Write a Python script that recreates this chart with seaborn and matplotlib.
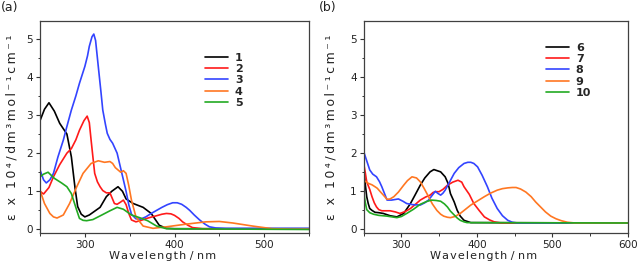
import numpy as np
import pandas as pd
import seaborn as sns
import matplotlib
matplotlib.use("Agg")
import matplotlib.pyplot as plt
from matplotlib.ticker import MultipleLocator
from matplotlib.lines import Line2D

# ---------------- data: panel (a) ----------------
wl_1 = [250, 255, 260, 266, 272, 280, 285, 289, 292, 296, 300, 305, 311, 317, 324, 330, 337, 342, 346, 354, 365, 374, 383, 391, 400, 550]
eps_1 = [2.85, 3.15, 3.32, 3.1, 2.78, 2.5, 1.9, 1.1, 0.6, 0.4, 0.33, 0.38, 0.48, 0.58, 0.86, 1.0, 1.12, 1.0, 0.8, 0.68, 0.58, 0.42, 0.11, 0.03, 0.02, 0.02]

wl_2 = [250, 254, 260, 265, 272, 280, 285, 290, 294, 299, 302.6, 305, 307, 309, 311, 314, 317, 320, 324, 328, 333, 336, 340, 343, 346, 349, 352, 357, 363, 369, 375, 380, 386, 391, 396, 400, 405, 409, 415, 420, 431, 550]
eps_2 = [1.0, 0.93, 1.1, 1.38, 1.7, 2.0, 2.12, 2.35, 2.6, 2.85, 2.97, 2.8, 2.34, 1.9, 1.47, 1.25, 1.12, 1.02, 0.96, 0.96, 0.68, 0.66, 0.72, 0.77, 0.65, 0.42, 0.25, 0.2, 0.24, 0.29, 0.33, 0.36, 0.4, 0.42, 0.41, 0.37, 0.29, 0.2, 0.11, 0.05, 0.02, 0.01]

wl_3 = [250, 254, 257, 261, 265, 270, 276, 280, 285, 290, 294, 300, 303, 305, 308, 310, 312, 315, 318, 320, 323, 325, 328, 331, 336, 341, 346, 349, 352, 357, 362, 368, 374, 380, 386, 392, 398, 403, 408, 413, 417, 422, 428, 434, 439, 446, 457, 550]
eps_3 = [1.56, 1.3, 1.22, 1.3, 1.47, 1.9, 2.34, 2.7, 3.13, 3.5, 3.83, 4.27, 4.55, 4.8, 5.05, 5.12, 4.95, 4.27, 3.6, 3.13, 2.75, 2.52, 2.36, 2.26, 2.0, 1.5, 1.0, 0.65, 0.4, 0.28, 0.27, 0.33, 0.42, 0.5, 0.58, 0.65, 0.7, 0.7, 0.66, 0.58, 0.5, 0.38, 0.25, 0.14, 0.07, 0.04, 0.03, 0.03]

wl_4 = [250, 255, 261, 265, 269, 276, 283, 291, 298, 307, 315, 322, 328, 331, 334, 337, 340, 343, 346, 349, 352, 357, 365, 376, 391, 413, 435, 450, 465, 487, 509, 530, 550]
eps_4 = [1.03, 0.68, 0.42, 0.33, 0.3, 0.38, 0.68, 1.12, 1.47, 1.73, 1.8, 1.76, 1.78, 1.73, 1.62, 1.56, 1.5, 1.54, 1.47, 1.15, 0.77, 0.33, 0.09, 0.03, 0.07, 0.14, 0.2, 0.21, 0.17, 0.09, 0.02, 0.01, 0.01]

wl_5 = [250, 254, 259, 266, 274, 280, 285, 288, 291, 294, 298, 302, 309, 319, 328, 336, 343, 352, 361, 370, 380, 391, 550]
eps_5 = [1.38, 1.45, 1.5, 1.34, 1.22, 1.12, 0.94, 0.72, 0.5, 0.29, 0.24, 0.23, 0.26, 0.38, 0.49, 0.58, 0.53, 0.38, 0.31, 0.23, 0.09, 0.02, 0.0]

# ---------------- data: panel (b) ----------------
wl_6 = [250, 252, 254, 256, 258, 261, 265, 270, 276, 285, 294, 303, 312, 318, 325, 331, 338, 343, 352, 358, 362, 365, 370, 374, 378, 383, 392, 600]
eps_6 = [1.64, 1.2, 0.86, 0.68, 0.55, 0.5, 0.45, 0.44, 0.42, 0.36, 0.33, 0.42, 0.68, 0.9, 1.16, 1.35, 1.51, 1.57, 1.51, 1.38, 1.2, 0.94, 0.72, 0.5, 0.35, 0.24, 0.18, 0.17]

wl_7 = [250, 252, 254, 258, 261, 264, 267, 270, 274, 280, 285, 292, 298, 305, 312, 318, 325, 332, 338, 342, 345, 350, 355, 361, 368, 375, 380, 383, 390, 396, 403, 410, 417, 423, 432, 600]
eps_7 = [1.73, 1.5, 1.25, 1.05, 0.86, 0.7, 0.59, 0.52, 0.49, 0.49, 0.49, 0.46, 0.42, 0.47, 0.55, 0.65, 0.77, 0.85, 0.9, 0.97, 0.99, 0.99, 1.05, 1.16, 1.24, 1.29, 1.24, 1.12, 0.92, 0.68, 0.5, 0.33, 0.25, 0.2, 0.17, 0.17]

wl_8 = [250, 254, 258, 262, 267, 271, 274, 278, 281, 287, 296, 302, 307, 315, 325, 331, 336, 341, 345, 348, 352, 355, 358, 364, 370, 376, 383, 388, 392, 396, 401, 407, 414, 420, 427, 434, 441, 447, 454, 600]
eps_8 = [2.04, 1.8, 1.56, 1.45, 1.38, 1.25, 1.12, 0.92, 0.77, 0.77, 0.8, 0.74, 0.68, 0.65, 0.64, 0.7, 0.77, 0.9, 1.0, 0.95, 0.9, 0.95, 1.03, 1.25, 1.47, 1.62, 1.73, 1.76, 1.76, 1.73, 1.64, 1.42, 1.12, 0.82, 0.55, 0.36, 0.24, 0.19, 0.17, 0.17]

wl_9 = [250, 256, 261, 265, 268, 272, 277, 281, 285, 290, 296, 303, 308, 314, 320, 325, 330, 336, 341, 347, 352, 356, 361, 365, 371, 378, 385, 392, 401, 410, 418, 427, 434, 441, 447, 452, 458, 465, 472, 478, 485, 491, 498, 505, 512, 520, 530, 600]
eps_9 = [1.29, 1.21, 1.17, 1.12, 1.08, 0.99, 0.88, 0.79, 0.8, 0.86, 0.98, 1.16, 1.28, 1.38, 1.35, 1.25, 1.08, 0.86, 0.67, 0.5, 0.4, 0.35, 0.32, 0.31, 0.34, 0.42, 0.53, 0.64, 0.75, 0.86, 0.95, 1.03, 1.07, 1.09, 1.1, 1.1, 1.06, 0.98, 0.86, 0.72, 0.58, 0.46, 0.35, 0.28, 0.23, 0.19, 0.17, 0.17]

wl_10 = [250, 252, 254, 258, 263, 270, 281, 294, 300, 307, 316, 325, 333, 340, 346, 352, 357, 361, 365, 370, 374, 378, 383, 387, 600]
eps_10 = [0.99, 0.72, 0.52, 0.44, 0.4, 0.37, 0.35, 0.31, 0.34, 0.42, 0.53, 0.66, 0.73, 0.77, 0.76, 0.74, 0.67, 0.59, 0.48, 0.38, 0.3, 0.24, 0.2, 0.18, 0.17]

labels_a = ["1", "2", "3", "4", "5"]
labels_b = ["6", "7", "8", "9", "10"]
colors = ["#000000", "#ff1a1a", "#3344ff", "#ff7722", "#22aa22"]

series_a = [(wl_1, eps_1), (wl_2, eps_2), (wl_3, eps_3), (wl_4, eps_4), (wl_5, eps_5)]
series_b = [(wl_6, eps_6), (wl_7, eps_7), (wl_8, eps_8), (wl_9, eps_9), (wl_10, eps_10)]


def to_df(series, labels):
    frames = []
    for (w, e), lab in zip(series, labels):
        frames.append(pd.DataFrame({"wl": w, "eps": e, "cpd": lab}))
    return pd.concat(frames, ignore_index=True)


df_a = to_df(series_a, labels_a)
df_b = to_df(series_b, labels_b)

sns.set_theme(style="white")
plt.rcParams["font.family"] = ["DejaVu Sans"]

fig = plt.figure(figsize=(6.41, 2.80), dpi=100)
ax_a = fig.add_axes([40 / 641, 1 - 233.3 / 280, 269 / 641, 212.6 / 280])
ax_b = fig.add_axes([363.7 / 641, 1 - 233.3 / 280, 264 / 641, 212.6 / 280])

HS = "\u200a"
TS = "\u2009"
xlabel = HS.join("Wavelength") + " / " + HS.join("nm")
ylabel = TS.join("\u03b5 x 10\u2074/dm\u00b3mol\u207b\u00b9cm\u207b\u00b9")

for ax, df, labels, xlim, ly, leg_xy in [
    (ax_a, df_a, labels_a, (250, 550), -0.08, (0.613, 0.85)),
    (ax_b, df_b, labels_b, (250, 600), -0.098, (0.69, 0.897)),
]:
    sns.lineplot(data=df, x="wl", y="eps", hue="cpd", hue_order=labels,
                 palette=colors, sort=False, estimator=None, units="cpd",
                 linewidth=1.2, ax=ax, legend=False)
    ax.set_xlim(*xlim)
    ax.set_ylim(-0.1, 5.47)
    ax.xaxis.set_major_locator(MultipleLocator(100))
    ax.xaxis.set_minor_locator(MultipleLocator(50))
    ax.yaxis.set_major_locator(MultipleLocator(1))
    ax.yaxis.set_minor_locator(MultipleLocator(0.5))
    ax.tick_params(which="major", direction="out", length=3, width=0.8,
                   labelsize=7.5, colors="#333333", pad=2,
                   bottom=True, left=True, top=False, right=False)
    ax.tick_params(which="minor", direction="out", length=1.8, width=0.7,
                   colors="#333333", bottom=True, left=True, top=False, right=False)
    for tl in ax.get_xticklabels() + ax.get_yticklabels():
        tl.set_color("#222222")
    for sp in ax.spines.values():
        sp.set_color("#404040")
        sp.set_linewidth(0.9)
    ax.set_xlabel(xlabel, fontsize=8, color="#222222")
    ax.xaxis.set_label_coords(0.454, -0.085)
    ax.set_ylabel(ylabel, fontsize=9, color="#222222")
    ax.yaxis.set_label_coords(ly, 0.5)
    handles = [Line2D([0], [0], color=c, lw=1.2) for c in colors]
    ax.legend(handles, labels, loc="upper left", bbox_to_anchor=leg_xy,
              frameon=False, borderpad=0, borderaxespad=0,
              handlelength=2.1, handletextpad=0.6, labelspacing=0.12,
              prop={"weight": "bold", "size": 8})

fig.text(0.002, 0.995, "(a)", fontsize=9, va="top", ha="left", color="#222222")
fig.text(0.497, 0.995, "(b)", fontsize=9, va="top", ha="left", color="#222222")

fig.savefig("out.png", dpi=100)
